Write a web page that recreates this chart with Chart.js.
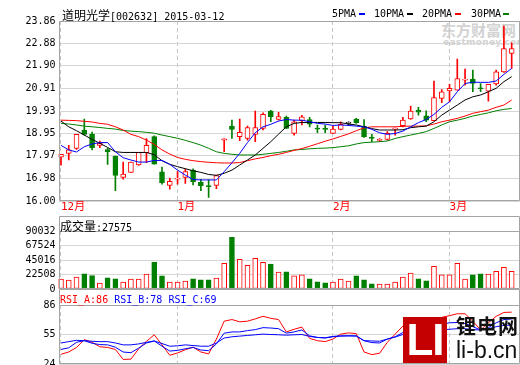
<!DOCTYPE html>
<html><head><meta charset="utf-8">
<script src="https://cdn.jsdelivr.net/npm/chart.js@4.4.1/dist/chart.umd.min.js"></script>
<style>
html,body{margin:0;padding:0;background:#fff;width:520px;height:365px;overflow:hidden;}
body{position:relative;}
canvas{position:absolute;left:0;z-index:2;}
.t{position:absolute;white-space:pre;font-family:"DejaVu Sans Mono",monospace;font-size:10px;line-height:14px;color:#000;z-index:3;}
.cjk{font-family:"Noto Sans CJK SC";font-size:12px;}
.dash{position:absolute;width:6px;height:2px;z-index:3;}
#wm1{position:absolute;left:441px;top:21px;font-family:"Noto Sans CJK SC";font-weight:bold;font-size:15px;line-height:18px;color:#d2d2d2;z-index:1;letter-spacing:0px;}
#wm2{position:absolute;left:443px;top:37px;font-family:"DejaVu Sans";font-weight:bold;font-size:9px;line-height:10px;color:#d2d2d2;z-index:1;letter-spacing:0.3px;}
#logo{position:absolute;left:403px;top:317px;width:44px;height:46px;background:#c40000;z-index:4;color:#fff;font-family:"Liberation Sans";font-weight:bold;font-size:44px;line-height:46px;text-align:center;letter-spacing:-1px;}
#lt1{position:absolute;left:456px;top:314px;font-family:"Noto Sans CJK SC";font-weight:bold;font-size:20px;line-height:24px;letter-spacing:1px;color:#111;z-index:4;}
#lt2{position:absolute;left:456px;top:336px;font-family:"Liberation Sans";font-size:23px;line-height:28px;color:#111;z-index:4;}
</style></head>
<body>
<div id="wm1">东方财富网</div>
<div id="wm2">eastmoney.com</div>

<div class="t" style="left:62px;top:8px"><span class="cjk">道明光学</span>[002632] 2015-03-12</div>
<div class="t" style="left:332px;top:7px">5PMA</div><div class="dash" style="left:359px;top:13px;background:#0000ff"></div>
<div class="t" style="left:374px;top:7px">10PMA</div><div class="dash" style="left:407px;top:13px;background:#000"></div>
<div class="t" style="left:422px;top:7px">20PMA</div><div class="dash" style="left:455px;top:13px;background:#ff0000"></div>
<div class="t" style="left:471px;top:7px">30PMA</div><div class="dash" style="left:503px;top:13px;background:#008000"></div>

<div class="t" style="left:60px;top:219px"><span class="cjk">成交量</span>:27575</div>
<div class="t" style="left:60px;top:293px"><span style="color:#ff0000">RSI_A:86</span> <span style="color:#0000ff">RSI_B:78</span> <span style="color:#0000ff">RSI_C:69</span></div>

<canvas id="ck" width="520" height="216" style="top:0px"></canvas>
<canvas id="cv" width="520" height="82" style="top:216px"></canvas>
<canvas id="cr" width="520" height="84" style="top:289px"></canvas>

<div id="logo">LI</div>
<div id="lt1">锂电网</div>
<div id="lt2">li-b.cn</div>

<script>
// ---------- data ----------
const monthTickIdx = [0, 15, 35, 50];
const monthTickLabels = ['12月', '1月', '2月', '3月'];
const priceTicks = [16.00, 16.98, 17.97, 18.95, 19.93, 20.91, 21.90, 22.88, 23.86];
const volTicks = [0, 22508, 45016, 67524, 90032];
const rsiTicks = [24, 55, 86];

const open  = [17.91,18.08,18.30,19.10,18.91,18.43,18.25,17.96,17.03,17.25,17.58,18.11,18.81,17.27,16.68,16.95,17.03,17.35,16.81,16.66,16.68,18.66,19.27,18.81,18.73,18.91,19.17,19.93,19.56,19.65,18.95,19.51,19.56,19.17,19.16,18.95,19.13,19.39,19.58,19.27,18.79,18.65,18.69,19.14,19.29,19.58,19.97,19.72,19.51,20.48,20.81,20.84,21.28,21.32,20.93,20.80,21.11,21.64,22.44];
const high  = [18.04,18.43,18.91,19.58,19.01,18.62,18.30,17.96,17.70,17.70,18.12,18.73,18.85,17.48,17.00,17.28,17.40,17.40,16.95,16.92,17.13,18.71,19.53,19.58,19.27,19.93,19.85,19.96,19.87,19.71,19.53,19.74,19.65,19.32,19.32,19.27,19.46,19.46,19.61,19.56,18.91,18.73,19.03,19.19,19.65,20.15,20.09,19.94,21.24,20.87,21.09,22.20,21.76,21.72,21.13,21.09,21.72,23.64,22.91];
const low   = [17.57,17.79,18.25,18.88,18.23,18.33,17.60,16.45,16.95,17.25,17.55,17.67,17.61,16.73,16.52,16.74,16.77,16.70,16.45,16.16,16.54,18.15,18.73,18.63,18.66,18.59,19.10,19.46,19.53,19.17,18.88,19.32,19.24,18.98,18.98,18.95,19.10,19.30,19.39,18.78,18.59,18.59,18.66,18.88,19.24,19.56,19.75,19.46,19.51,20.29,20.33,20.84,21.06,20.77,20.77,20.36,21.06,21.61,21.79];
const close = [18.04,18.23,18.91,18.91,18.33,18.52,18.15,17.12,17.18,17.70,18.12,18.43,17.61,16.80,16.86,17.00,17.28,16.84,16.67,16.63,17.11,18.71,19.13,19.00,19.21,19.21,19.78,19.68,19.69,19.17,19.46,19.68,19.35,19.14,19.13,19.14,19.35,19.39,19.42,18.81,18.73,18.68,18.95,19.17,19.53,19.93,19.88,19.53,20.52,20.77,20.92,21.35,21.32,21.13,20.90,21.09,21.64,22.66,22.66];

const ma5  = [18.43,18.23,18.14,18.37,18.49,18.55,18.55,18.15,17.89,17.79,17.70,17.70,17.77,17.77,17.60,17.35,17.13,16.94,16.92,16.92,16.92,17.28,17.67,18.08,18.55,18.98,19.24,19.35,19.49,19.56,19.53,19.53,19.46,19.39,19.36,19.30,19.32,19.30,19.27,19.24,19.13,18.98,18.91,18.95,19.05,19.24,19.42,19.56,19.78,20.09,20.33,20.77,21.13,21.19,21.18,21.18,21.24,21.53,21.79];
const ma10 = [19.49,19.24,19.07,18.88,18.69,18.52,18.34,18.15,18.12,18.12,18.12,18.12,18.02,17.76,17.60,17.50,17.41,17.32,17.25,17.16,17.12,17.21,17.35,17.57,17.79,18.01,18.30,18.59,18.92,19.24,19.39,19.43,19.43,19.43,19.43,19.42,19.42,19.36,19.32,19.24,19.16,19.10,19.10,19.10,19.11,19.20,19.24,19.27,19.46,19.75,19.97,20.19,20.41,20.55,20.63,20.77,20.92,21.21,21.43];
const ma20 = [19.53,19.52,19.51,19.48,19.45,19.39,19.35,19.24,19.10,18.91,18.81,18.66,18.47,18.23,18.05,17.90,17.82,17.76,17.72,17.69,17.67,17.66,17.66,17.68,17.76,17.84,17.90,17.98,18.04,18.12,18.21,18.29,18.39,18.50,18.61,18.71,18.82,18.93,19.07,19.19,19.24,19.24,19.24,19.24,19.26,19.27,19.27,19.28,19.36,19.46,19.53,19.61,19.71,19.83,19.90,19.97,20.09,20.19,20.41];
const ma30 = [19.39,19.36,19.32,19.27,19.24,19.21,19.17,19.14,19.08,19.05,19.03,19.00,18.96,18.88,18.81,18.74,18.65,18.55,18.44,18.30,18.15,18.08,18.04,18.01,18.01,18.01,18.04,18.08,18.12,18.17,18.23,18.25,18.28,18.30,18.31,18.33,18.37,18.41,18.49,18.55,18.57,18.59,18.62,18.73,18.81,18.88,18.95,19.03,19.17,19.32,19.46,19.53,19.61,19.71,19.78,19.85,19.94,20.00,20.04];

const volume = [15345,13810,18414,23529,20972,9207,17391,15857,10742,15345,15345,23018,41943,20460,10742,10742,12276,15857,14322,14322,16880,39897,80306,46035,36828,47570,41432,38874,26087,26598,20460,21995,15857,11253,9719,10742,15345,12276,20460,14322,8184,7673,7673,10742,18414,24552,15857,12788,35294,21995,21995,39897,15345,21995,23529,23018,27621,33759,27575];

const rsiA = [34.2,36.6,41.4,49.6,46.8,42.1,41.4,39.3,28.8,29.1,40.0,47.9,54.7,44.1,33.2,35.6,39.0,41.7,36.6,34.6,50.2,69.0,70.7,68.3,69.0,71.4,74.1,72.0,70.7,57.7,60.5,62.8,50.9,48.5,47.5,50.2,55.4,56.7,56.0,36.6,33.9,35.3,46.8,55.4,63.9,67.0,67.0,65.5,71.0,73.0,74.8,76.8,76.8,69.0,59.8,67.3,74.1,78.2,78.5];
const rsiB = [39.3,41.0,46.8,48.5,45.8,44.4,44.1,41.7,36.6,35.9,40.7,46.1,48.2,42.7,37.6,38.3,40.0,41.4,38.7,38.0,45.1,56.4,57.7,57.7,59.1,60.1,62.2,61.8,61.1,56.4,57.7,59.8,53.6,51.9,51.6,53.0,53.6,53.6,53.3,48.5,46.5,46.1,50.2,52.6,57.1,59.8,60.5,60.5,63.2,65.6,67.3,67.6,66.6,63.2,59.8,62.2,67.3,70.7,71.4];
const rsiC = [46.1,47.5,48.9,48.5,47.9,47.5,47.5,46.1,44.1,44.1,45.1,46.8,48.2,45.5,42.7,43.1,44.1,43.4,42.7,42.7,46.1,51.3,52.6,53.3,54.0,54.7,55.4,55.0,54.7,54.3,54.7,55.0,53.0,51.9,51.3,52.6,53.3,53.6,53.6,48.5,48.2,47.9,50.2,52.3,55.0,56.4,57.1,57.1,58.4,59.8,60.5,61.1,61.1,60.1,59.8,61.1,63.2,64.5,64.9];

// ---------- styling ----------
const RED = '#ff0000', GREEN = '#008000', BLUE = '#0000ff', BLACK = '#000000';
const FONT = '"DejaVu Sans Mono", "Noto Sans CJK SC", monospace';
const X_MIN = -0.32, X_MAX = 59.07, Y_AXIS_W = 58.5;

const idx = close.map((_, i) => i);
const dir = idx.map(i => close[i] > open[i] ? 1 : (close[i] < open[i] ? -1 : 0));
const candleColor = idx.map(i => dir[i] > 0 ? RED : (dir[i] < 0 ? GREEN : BLACK));
const candleFill = idx.map(i => dir[i] < 0 ? GREEN : '#ffffff');
const volColor = idx.map(i => dir[i] < 0 ? GREEN : RED);
const volFill = idx.map(i => dir[i] < 0 ? GREEN : '#ffffff');
const pts = arr => arr.map((v, i) => ({x: i, y: v}));

const framePlugin = {
  id: 'frame',
  afterDatasetsDraw(chart, args, opts) {
    const {ctx, chartArea: a} = chart;
    ctx.save();
    ctx.strokeStyle = '#a4a4a4';
    ctx.lineWidth = 1;
    const L = Math.round(a.left) + 0.5, R = Math.round(a.right) - 0.5;
    const T = Math.round(opts.boxTop != null ? opts.boxTop : a.top) + 0.5;
    const B = Math.round(a.bottom) - 0.5;
    ctx.beginPath();
    ctx.moveTo(L, B); ctx.lineTo(L, T); ctx.lineTo(R, T); ctx.lineTo(R, B); ctx.lineTo(L, B);
    if (opts.boxTop != null) {
      const y = Math.round(a.top) + 0.5;
      ctx.moveTo(L, y); ctx.lineTo(R, y);
    }
    ctx.stroke();
    ctx.restore();
  }
};

function xScale(showLabels) {
  return {
    type: 'linear', min: X_MIN, max: X_MAX, offset: false,
    afterBuildTicks: s => { s.ticks = monthTickIdx.map(v => ({value: v})); },
    grid: {color: '#c6c6c6', lineWidth: 1, drawTicks: false, offset: false},
    border: {display: false, dash: [4, 3]},
    ticks: {
      display: showLabels, autoSkip: false, maxRotation: 0, minRotation: 0,
      align: 'start', padding: 0, color: RED,
      font: {family: FONT, size: 11},
      callback: v => { const k = monthTickIdx.indexOf(v); return k >= 0 ? monthTickLabels[k] : ''; }
    },
    afterFit: s => { s.height = showLabels ? 15 : 0; }
  };
}
function yScale(min, max, tickVals, fmt) {
  return {
    min: min, max: max,
    afterBuildTicks: s => { s.ticks = tickVals.map(v => ({value: v})); },
    grid: {color: '#d6d6d6', lineWidth: 1, drawTicks: false},
    border: {display: false},
    ticks: {padding: 3, color: '#000', autoSkip: false, font: {family: FONT, size: 10}, callback: fmt},
    afterFit: s => { s.width = Y_AXIS_W; }
  };
}
const base = {
  responsive: false, animation: false, devicePixelRatio: 1, events: [],
  plugins: {legend: {display: false}, tooltip: {enabled: false}, title: {display: false}}
};

// ---------- candlestick panel ----------
new Chart(document.getElementById('ck'), {
  type: 'bar',
  data: {
    datasets: [
      {type: 'line', data: pts(ma5),  borderColor: BLUE,  borderWidth: 1, pointRadius: 0, tension: 0, order: 1},
      {type: 'line', data: pts(ma10), borderColor: BLACK, borderWidth: 1, pointRadius: 0, tension: 0, order: 1},
      {type: 'line', data: pts(ma20), borderColor: RED,   borderWidth: 1, pointRadius: 0, tension: 0, order: 1},
      {type: 'line', data: pts(ma30), borderColor: GREEN, borderWidth: 1, pointRadius: 0, tension: 0, order: 1},
      {type: 'bar', data: idx.map(i => ({x: i, y: [open[i], close[i]]})), grouped: false, barThickness: 5,
        backgroundColor: candleFill, borderColor: candleColor, borderWidth: 1, borderSkipped: false, minBarLength: 1, order: 2},
      {type: 'bar', data: idx.map(i => ({x: i, y: [low[i], high[i]]})), grouped: false, barThickness: 1,
        backgroundColor: candleColor, borderWidth: 0, minBarLength: 1, order: 3}
    ]
  },
  options: Object.assign({}, base, {
    layout: {padding: {top: 21, right: 0, bottom: 0, left: 0}},
    scales: {x: xScale(true), y: yScale(16.00, 23.86, priceTicks, v => v.toFixed(2))},
    plugins: Object.assign({}, base.plugins, {frame: {}})
  }),
  plugins: [framePlugin]
});

// ---------- volume panel ----------
new Chart(document.getElementById('cv'), {
  type: 'bar',
  data: {
    datasets: [
      {data: idx.map(i => ({x: i, y: volume[i]})), barThickness: 5, backgroundColor: volFill,
        borderColor: volColor, borderWidth: 1, borderSkipped: false}
    ]
  },
  options: Object.assign({}, base, {
    layout: {padding: {top: 15, right: 0, bottom: 8, left: 0}},
    scales: {x: xScale(false), y: yScale(0, 90032, volTicks, v => String(v))},
    plugins: Object.assign({}, base.plugins, {frame: {boxTop: 0}})
  }),
  plugins: [framePlugin]
});

// ---------- RSI panel ----------
new Chart(document.getElementById('cr'), {
  type: 'line',
  data: {
    datasets: [
      {data: pts(rsiC), borderColor: BLUE, borderWidth: 1, pointRadius: 0, tension: 0},
      {data: pts(rsiB), borderColor: BLUE, borderWidth: 1, pointRadius: 0, tension: 0},
      {data: pts(rsiA), borderColor: RED,  borderWidth: 1, pointRadius: 0, tension: 0}
    ]
  },
  options: Object.assign({}, base, {
    layout: {padding: {top: 16, right: 0, bottom: 7, left: 0}},
    scales: {x: xScale(false), y: yScale(24, 86, rsiTicks, v => String(v))},
    plugins: Object.assign({}, base.plugins, {frame: {boxTop: 0}})
  }),
  plugins: [framePlugin]
});
</script>
</body></html>
